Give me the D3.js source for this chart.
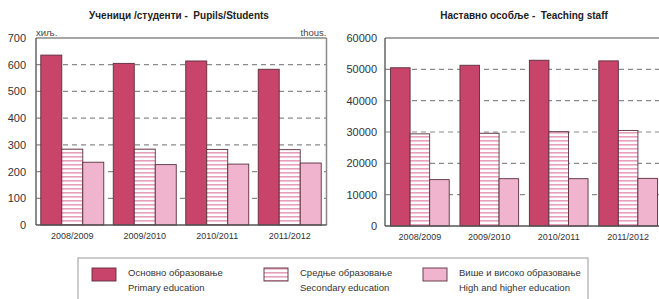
<!DOCTYPE html>
<html><head><meta charset="utf-8">
<script src="https://cdn.jsdelivr.net/npm/d3@7"></script>
<style>
html,body{margin:0;padding:0;background:#fff;}
svg{display:block;font-family:"Liberation Sans",Arial,sans-serif;}
text.title{white-space:pre;}
</style></head>
<body><svg id="c" width="659" height="299"></svg>
<script>
const years = ["2008/2009","2009/2010","2010/2011","2011/2012"];
const seriesKeys = ["primary","secondary","higher"];
const pupilsPrimary = [636, 605, 614, 583];
const pupilsSecondary = [284, 284, 283, 282];
const pupilsHigher = [235, 226, 228, 232];
const staffPrimary = [50500, 51300, 52900, 52700];
const staffSecondary = [29400, 29600, 30100, 30500];
const staffHigher = [14800, 15100, 15100, 15200];
const pupilsTicks = [0,100,200,300,400,500,600,700];
const staffTicks = [0,10000,20000,30000,40000,50000,60000];
const legendCyr = ["Основно образовање","Средње образовање","Више и високо образовање"];
const legendEng = ["Primary education","Secondary education","High and higher education"];

const svg = d3.select("#c");
const defs = svg.append("defs");
const pat = defs.append("pattern").attr("id","stripes").attr("patternUnits","userSpaceOnUse")
  .attr("width",6).attr("height",4);
pat.append("rect").attr("width",6).attr("height",4).attr("fill","#fff");
pat.append("rect").attr("y",0).attr("width",6).attr("height",1.6).attr("fill","#E7A0BA");

const fills = {primary:"#C8446A", secondary:"url(#stripes)", higher:"#F1B4CF"};
const barStroke = "#5a2f3d";

function chart(o){
  const g = svg.append("g");
  const x = d3.scaleBand().domain(years).range([o.x0,o.x1]).paddingInner(o.pi).paddingOuter(o.po);
  const xs = d3.scaleBand().domain(seriesKeys).range([0,x.bandwidth()]);
  const y = d3.scaleLinear().domain([0,o.max]).range([o.y0,o.y1]);
  g.selectAll(".grid").data(o.ticks.filter(t=>t>0 && t<o.max)).join("line")
    .attr("x1",o.x0).attr("x2",o.x1).attr("y1",d=>y(d)).attr("y2",d=>y(d))
    .attr("stroke","#8a8a8a").attr("stroke-width",1.2).attr("stroke-dasharray","5,4");
  const data = years.map((yr,i)=>({yr, vals: seriesKeys.map((k,j)=>({k, v:o.series[j][i]}))}));
  const grp = g.selectAll(".grp").data(data).join("g").attr("transform",d=>`translate(${x(d.yr)},0)`);
  grp.selectAll("rect").data(d=>d.vals).join("rect")
    .attr("x",d=>xs(d.k)).attr("width",xs.bandwidth())
    .attr("y",d=>y(d.v)).attr("height",d=>y(0)-y(d.v))
    .attr("fill",d=>fills[d.k]).attr("stroke",barStroke).attr("stroke-width",0.9);
  g.append("line").attr("x1",o.x0).attr("x2",o.frameRight).attr("y1",y(o.max)).attr("y2",y(o.max)).attr("stroke","#888").attr("stroke-width",1.5);
  g.append("line").attr("x1",o.frameRight).attr("x2",o.frameRight).attr("y1",y(o.max)).attr("y2",y(0)).attr("stroke","#888").attr("stroke-width",1.5);
  g.append("line").attr("x1",o.x0).attr("x2",o.x0).attr("y1",y(o.max)).attr("y2",y(0)).attr("stroke","#666").attr("stroke-width",1.5);
  g.append("line").attr("x1",o.x0).attr("x2",o.frameRight).attr("y1",y(0)).attr("y2",y(0)).attr("stroke","#555").attr("stroke-width",1.5);
  const ya = d3.axisLeft(y).tickValues(o.ticks).tickSize(0).tickPadding(0).tickFormat(d3.format("d"));
  const ag = g.append("g").attr("transform",`translate(${o.x0 - o.labelGap},0)`).call(ya);
  ag.select(".domain").remove();
  ag.selectAll("text").attr("font-size",11).attr("fill","#333").attr("font-family","Liberation Sans, Arial, sans-serif");
  const xa = d3.axisBottom(x).tickSize(0).tickPadding(0);
  const xg = g.append("g").attr("transform",`translate(0,${o.y0+8})`).call(xa);
  xg.select(".domain").remove();
  xg.selectAll("text").attr("font-size",9).attr("fill","#333").attr("font-family","Liberation Sans, Arial, sans-serif");
  g.append("text").attr("class","title").attr("x",o.titleX).attr("y",19).attr("text-anchor","middle")
    .attr("font-size",10).attr("font-weight","bold").attr("fill","#222").text(o.title);
  if(o.units){
    g.append("text").attr("x",o.x0).attr("y",36).attr("font-size",9.5).attr("fill","#444").text(o.units[0]);
    g.append("text").attr("x",o.frameRight).attr("y",36).attr("text-anchor","end").attr("font-size",9.5).attr("fill","#444").text(o.units[1]);
  }
}

chart({x0:36,x1:326,frameRight:326.5,pi:0.131,po:0.066,y0:225,y1:38,max:700,ticks:pupilsTicks,
  series:[pupilsPrimary,pupilsSecondary,pupilsHigher],labelGap:10,
  title:"Ученици /студенти -  Pupils/Students",titleX:179,units:["хиљ.","thous."]});
chart({x0:385,x1:663,frameRight:663,pi:0.155,po:0.08,y0:226,y1:38,max:60000,ticks:staffTicks,
  series:[staffPrimary,staffSecondary,staffHigher],labelGap:8,
  title:"Наставно особље -  Teaching staff",titleX:524});

const lg = svg.append("g");
lg.append("rect").attr("x",78).attr("y",258).attr("width",510).attr("height",60)
  .attr("fill","#fff").attr("stroke","#aaa").attr("stroke-width",1.2);
const lx = [92,264,423];
const items = lg.selectAll(".li").data(seriesKeys).join("g").attr("transform",(d,i)=>`translate(${lx[i]},0)`);
items.append("rect").attr("x",0).attr("y",268).attr("width",24).attr("height",13)
  .attr("fill",d=>fills[d]).attr("stroke",barStroke).attr("stroke-width",0.9);
items.append("text").attr("x",36).attr("y",276).attr("font-size",9.5).attr("fill","#333").text((d,i)=>legendCyr[i]);
items.append("text").attr("x",36).attr("y",291).attr("font-size",9.5).attr("fill","#333").text((d,i)=>legendEng[i]);
</script></body></html>
